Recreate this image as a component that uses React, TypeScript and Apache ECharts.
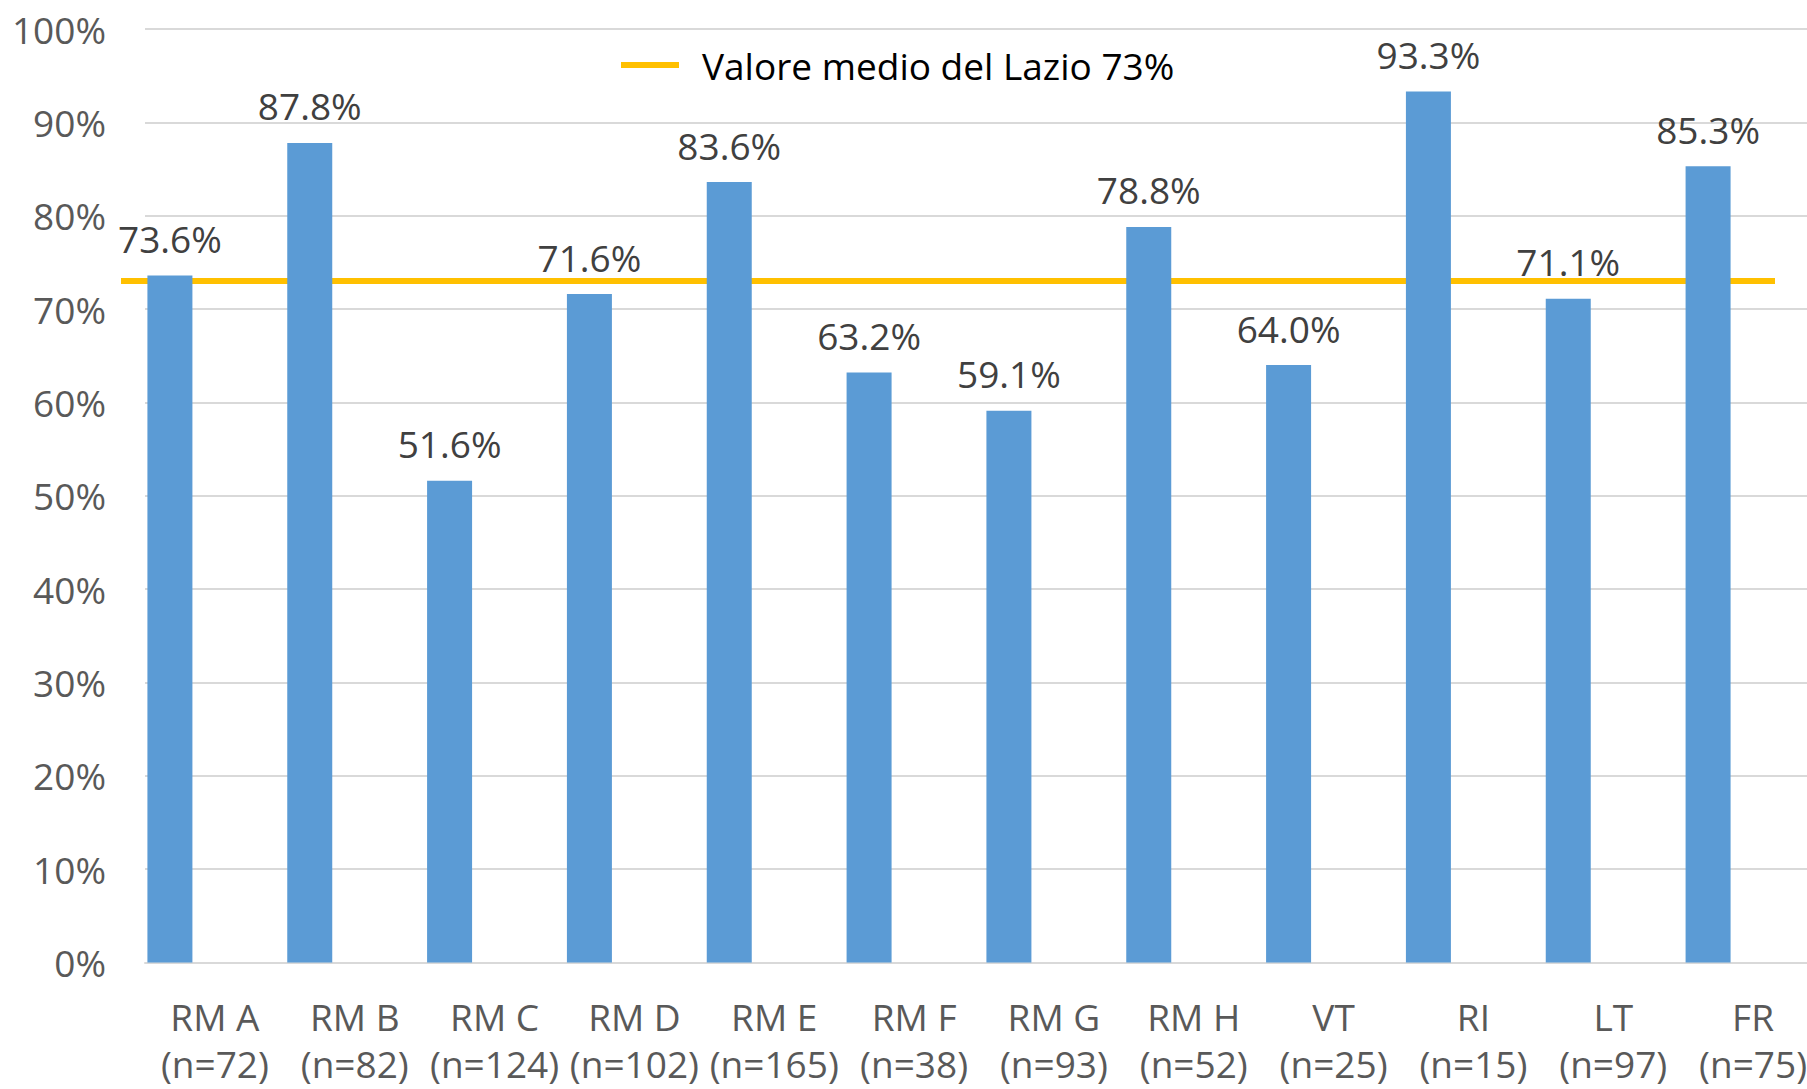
import React, { useEffect, useRef } from "react";
import * as echarts from "echarts";

const categories = ["RM A", "RM B", "RM C", "RM D", "RM E", "RM F", "RM G", "RM H", "VT", "RI", "LT", "FR"];
const sampleSizes = [72, 82, 124, 102, 165, 38, 93, 52, 25, 15, 97, 75];
const values = [73.6, 87.8, 51.6, 71.6, 83.6, 63.2, 59.1, 78.8, 64.0, 93.3, 71.1, 85.3];
const meanValue = 73;
const meanLabel = "Valore medio del Lazio 73%";

const FONT = '"Open Sans", "Liberation Sans", sans-serif';

export default function App() {
  const ref = useRef<HTMLDivElement>(null);
  useEffect(() => {
    if (!ref.current) return;
    const chart = echarts.init(ref.current, null, { renderer: "svg" });
    const xLabels = categories.map((c, i) => `${c}\n(n=${sampleSizes[i]})`);
    const option: any = {
      animation: false,
      textStyle: { fontFamily: FONT },
      grid: [
        { left: 145, width: 1678, top: 29, height: 933.5, outerBoundsMode: "none" },
        { left: 121, width: 1654, top: 29, height: 933.5, outerBoundsMode: "none" },
      ],
      legend: {
        data: [meanLabel],
        left: 616,
        top: 40,
        icon: "rect",
        itemWidth: 58,
        itemHeight: 6,
        textStyle: { fontSize: 37, color: "#000000", lineHeight: 40, fontFamily: FONT, padding: [0, 0, 0, 18] },
      },
      xAxis: [
        {
          type: "category",
          gridIndex: 0,
          data: xLabels,
          axisTick: { show: false },
          axisLine: { lineStyle: { color: "#D9D9D9", width: 2 } },
          axisLabel: { interval: 0, color: "#595959", fontSize: 37, lineHeight: 47, margin: 30, fontFamily: FONT },
        },
        { type: "category", gridIndex: 1, data: categories, boundaryGap: false, show: false },
      ],
      yAxis: [
        {
          type: "value",
          gridIndex: 0,
          min: 0,
          max: 100,
          interval: 10,
          axisLine: { show: false },
          axisTick: { show: false },
          axisLabel: { formatter: "{value}%", color: "#595959", fontSize: 37, margin: 39, fontFamily: FONT },
          splitLine: { lineStyle: { color: "#D9D9D9", width: 2 } },
        },
        { type: "value", gridIndex: 1, min: 0, max: 100, show: false, splitLine: { show: false } },
      ],
      series: [
        {
          type: "bar",
          name: "Valori",
          xAxisIndex: 0,
          yAxisIndex: 0,
          data: values,
          barWidth: 45,
          barGap: "100%",
          z: 3,
          itemStyle: { color: "#5B9BD5" },
          label: {
            show: true,
            position: "top",
            distance: 17,
            fontSize: 37,
            lineHeight: 40,
            color: "#404040",
            fontFamily: FONT,
            formatter: (p: any) => `${Number(p.value).toFixed(1)}%`,
          },
        },
        {
          type: "bar",
          name: "spacer",
          xAxisIndex: 0,
          yAxisIndex: 0,
          data: categories.map(() => null),
          barWidth: 45,
        },
        {
          type: "line",
          name: meanLabel,
          xAxisIndex: 1,
          yAxisIndex: 1,
          data: categories.map(() => meanValue),
          symbol: "none",
          z: 1,
          lineStyle: { color: "#FFC000", width: 6 },
          itemStyle: { color: "#FFC000" },
        },
      ],
    };
    chart.setOption(option);
    return () => chart.dispose();
  }, []);
  return (
    <div
      ref={ref}
      style={{ position: "absolute", left: 0, top: 0, width: 1807, height: 1089, background: "#ffffff" }}
    />
  );
}
